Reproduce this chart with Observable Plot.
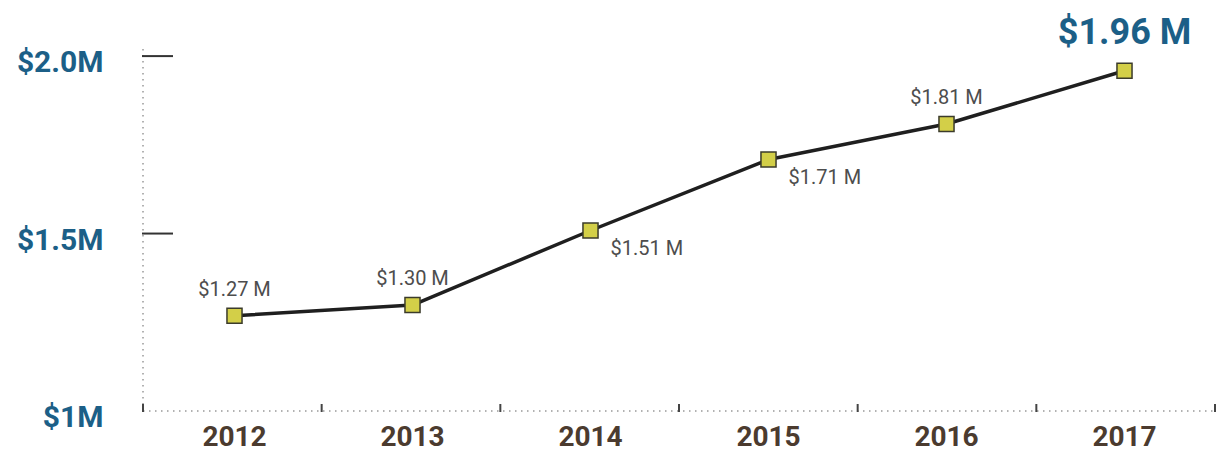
<!DOCTYPE html>
<html><head><meta charset="utf-8">
<script src="https://cdn.jsdelivr.net/npm/d3@7"></script>
<script src="https://cdn.jsdelivr.net/npm/@observablehq/plot@0.6"></script>
<style>body{margin:0;background:#fff;}</style>
</head><body><div id="chart"></div>
<script>
const years = ["2012", "2013", "2014", "2015", "2016", "2017"];
const revenue = [1.27, 1.30, 1.51, 1.71, 1.81, 1.96];
const valueLabels = ["$1.27 M", "$1.30 M", "$1.51 M", "$1.71 M", "$1.81 M", "$1.96 M"];
const yTickValues = [1.0, 1.5, 2.0];
const yTickLabels = ["$1M", "$1.5M", "$2.0M"];

const data = years.map((year, i) => ({year, value: revenue[i], label: valueLabels[i]}));

function decorations(index, scales, values, dimensions) {
  const {width, height, marginLeft, marginRight, marginTop, marginBottom} = dimensions;
  const left = marginLeft, right = width - marginRight, bottom = height - marginBottom;
  const g = d3.create("svg:g");
  g.append("line").attr("x1", left).attr("x2", right).attr("y1", bottom).attr("y2", bottom)
    .attr("stroke", "#999").attr("stroke-width", 1.5).attr("stroke-dasharray", "1.5,4.5");
  g.append("line").attr("x1", left).attr("x2", left).attr("y1", marginTop).attr("y2", bottom)
    .attr("stroke", "#999").attr("stroke-width", 1.5).attr("stroke-dasharray", "1.5,4.5");
  const step = (right - left) / years.length;
  for (let i = 0; i <= years.length; i++) {
    const x = left + i * step;
    g.append("line").attr("x1", x).attr("x2", x).attr("y1", bottom - 7).attr("y2", bottom + 1)
      .attr("stroke", "#444").attr("stroke-width", 2);
  }
  yTickValues.filter(v => v > yTickValues[0]).forEach(v => {
    const y = scales.y(v);
    g.append("line").attr("x1", left - 1).attr("x2", left + 30).attr("y1", y).attr("y2", y)
      .attr("stroke", "#333").attr("stroke-width", 2);
  });
  return g.node();
}

const chart = Plot.plot({
  width: 1225,
  height: 453,
  marginLeft: 143,
  marginRight: 10,
  marginTop: 49,
  marginBottom: 42,
  style: {fontFamily: "Roboto, sans-serif", background: "#fff", overflow: "visible"},
  x: {type: "band", domain: years, padding: 0, label: null},
  y: {domain: [1, 2.02], label: null},
  marks: [
    decorations,
    Plot.axisX({tickSize: 0, tickPadding: 15, fontSize: 28, fontWeight: "bold", fill: "#4b3b2f", label: null}),
    Plot.axisY({ticks: yTickValues, tickFormat: d => yTickLabels[yTickValues.indexOf(d)], tickSize: 0, tickPadding: 40,
      fontSize: 30, fontWeight: "bold", fill: "#1c5f87", dy: 6, label: null}),
    Plot.line(data, {x: "year", y: "value", stroke: "#1f1f1f", strokeWidth: 3.5}),
    Plot.dot(data, {x: "year", y: "value", symbol: "square", r: 8.5, fill: "#d3cf48", stroke: "#3b3b2b", strokeWidth: 1.5}),
    Plot.text(data, {filter: d => ["2012", "2013", "2016"].includes(d.year), x: "year", y: "value", text: "label",
      dy: -26, fontSize: 20, fill: "#4d4d4d"}),
    Plot.text(data, {filter: d => ["2014", "2015"].includes(d.year), x: "year", y: "value", text: "label",
      textAnchor: "start", dx: 20, dy: 18, fontSize: 20, fill: "#4d4d4d"}),
    Plot.text(data, {filter: d => d.year === "2017", x: "year", y: "value", text: "label",
      dy: -38, fontSize: 36, fontWeight: "bold", fill: "#1c5f87"})
  ]
});
document.getElementById("chart").append(chart);
</script>
</body></html>
